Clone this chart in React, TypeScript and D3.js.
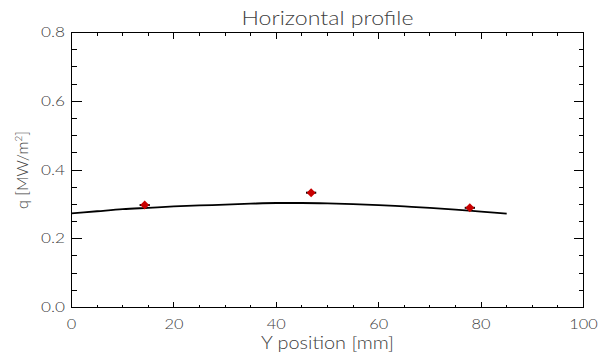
import React from "react";
import * as d3 from "d3";

const W = 600;
const H = 358;

const curveX = [0, 5, 10, 15, 20, 25, 30, 35, 40, 45, 50, 55, 60, 65, 70, 75, 80, 85];
const curveY = [0.274, 0.28, 0.286, 0.29, 0.294, 0.297, 0.299, 0.302, 0.304, 0.304, 0.303, 0.301, 0.298, 0.294, 0.29, 0.285, 0.279, 0.273];

const pointX = [14.3, 46.8, 77.8];
const pointY = [0.298, 0.334, 0.29];
const pointErr = [1, 1, 1];

const xMajor = [0, 20, 40, 60, 80, 100];
const yMajor = [0.0, 0.2, 0.4, 0.6, 0.8];

const titleText = "Horizontal profile";
const xTitle = "Y position [mm]";

export default function App() {
  const m = { left: 71.5, right: 583.5, top: 32.5, bottom: 307.5 };
  const x = d3.scaleLinear().domain([0, 100]).range([m.left, m.right]);
  const y = d3.scaleLinear().domain([0, 0.8]).range([m.bottom, m.top]);

  const xMinor = d3.range(0, 100.001, 5).filter((v) => !xMajor.includes(v));
  const yMinor = d3.range(0, 0.8001, 0.05).filter((v) => !yMajor.some((t) => Math.abs(t - v) < 1e-6));

  const line = d3
    .line<number>()
    .x((_, i) => x(curveX[i]))
    .y((d) => y(d))
    .curve(d3.curveMonotoneX);

  const xMajLen = 6;
  const xMinLen = 3;
  const yMajLen = 10;
  const yMinLen = 5;
  const textFill = "#404040";
  const font = "Lato, 'DejaVu Sans', sans-serif";
  const fw = 300;

  const diamond = (cx: number, cy: number, r: number) =>
    `M${cx},${cy - r}L${cx + r},${cy}L${cx},${cy + r}L${cx - r},${cy}Z`;

  return (
    <svg width={W} height={H} style={{ position: "absolute", left: 0, top: 0, background: "#fff" }}>
      <rect x={0} y={0} width={W} height={H} fill="#fff" />
      <rect x={m.left} y={m.top} width={m.right - m.left} height={m.bottom - m.top} fill="none" stroke="#000" strokeWidth={1} shapeRendering="crispEdges" />
      <g stroke="#000" strokeWidth={1} shapeRendering="crispEdges">
        {xMajor.map((v) => (
          <g key={"xm" + v}>
            <line x1={x(v)} x2={x(v)} y1={m.bottom} y2={m.bottom - xMajLen} />
            <line x1={x(v)} x2={x(v)} y1={m.top} y2={m.top + xMajLen} />
          </g>
        ))}
        {xMinor.map((v) => (
          <g key={"xn" + v}>
            <line x1={x(v)} x2={x(v)} y1={m.bottom} y2={m.bottom - xMinLen} />
            <line x1={x(v)} x2={x(v)} y1={m.top} y2={m.top + xMinLen} />
          </g>
        ))}
        {yMajor.map((v) => (
          <g key={"ym" + v}>
            <line x1={m.left} x2={m.left + yMajLen} y1={y(v)} y2={y(v)} />
            <line x1={m.right} x2={m.right - yMajLen} y1={y(v)} y2={y(v)} />
          </g>
        ))}
        {yMinor.map((v) => (
          <g key={"yn" + v}>
            <line x1={m.left} x2={m.left + yMinLen} y1={y(v)} y2={y(v)} />
            <line x1={m.right} x2={m.right - yMinLen} y1={y(v)} y2={y(v)} />
          </g>
        ))}
      </g>
      <g fill={textFill} fontFamily={font} fontWeight={fw} fontSize={13}>
        {xMajor.map((v) => {
          const s = String(v);
          return (
            <text key={"xl" + v} x={x(v)} y={328.5} textAnchor="middle" textLength={s.length * 9.5} lengthAdjust="spacingAndGlyphs">
              {s}
            </text>
          );
        })}
        {yMajor.map((v) => {
          const s = v.toFixed(1);
          return (
            <text key={"yl" + v} x={65} y={y(v) + 4.5} textAnchor="end" textLength={24} lengthAdjust="spacingAndGlyphs">
              {s}
            </text>
          );
        })}
      </g>
      <text x={(m.left + m.right) / 2} y={25} textAnchor="middle" fill={textFill} fontFamily={font} fontWeight={fw} fontSize={20} textLength={172} lengthAdjust="spacingAndGlyphs">
        {titleText}
      </text>
      <text x={(m.left + m.right) / 2} y={348.5} textAnchor="middle" fill={textFill} fontFamily={font} fontWeight={fw} fontSize={17} textLength={133} lengthAdjust="spacingAndGlyphs">
        {xTitle}
      </text>
      <text transform={`translate(28,${(m.top + m.bottom) / 2}) rotate(-90)`} textAnchor="middle" fill={textFill} fontFamily={font} fontWeight={fw} fontSize={16}>
        q [MW/m
        <tspan dy={-6} fontSize={10}>2</tspan>
        <tspan dy={6}>]</tspan>
      </text>
      <path d={line(curveY) || ""} fill="none" stroke="#000" strokeWidth={1.8} />
      {pointX.map((px, i) => (
        <g key={"p" + i}>
          <line x1={x(px - pointErr[i])} x2={x(px + pointErr[i])} y1={y(pointY[i])} y2={y(pointY[i])} stroke="#000" strokeWidth={2} />
          <path d={diamond(x(px), y(pointY[i]), 4.5)} fill="#c80000" />
        </g>
      ))}
    </svg>
  );
}
